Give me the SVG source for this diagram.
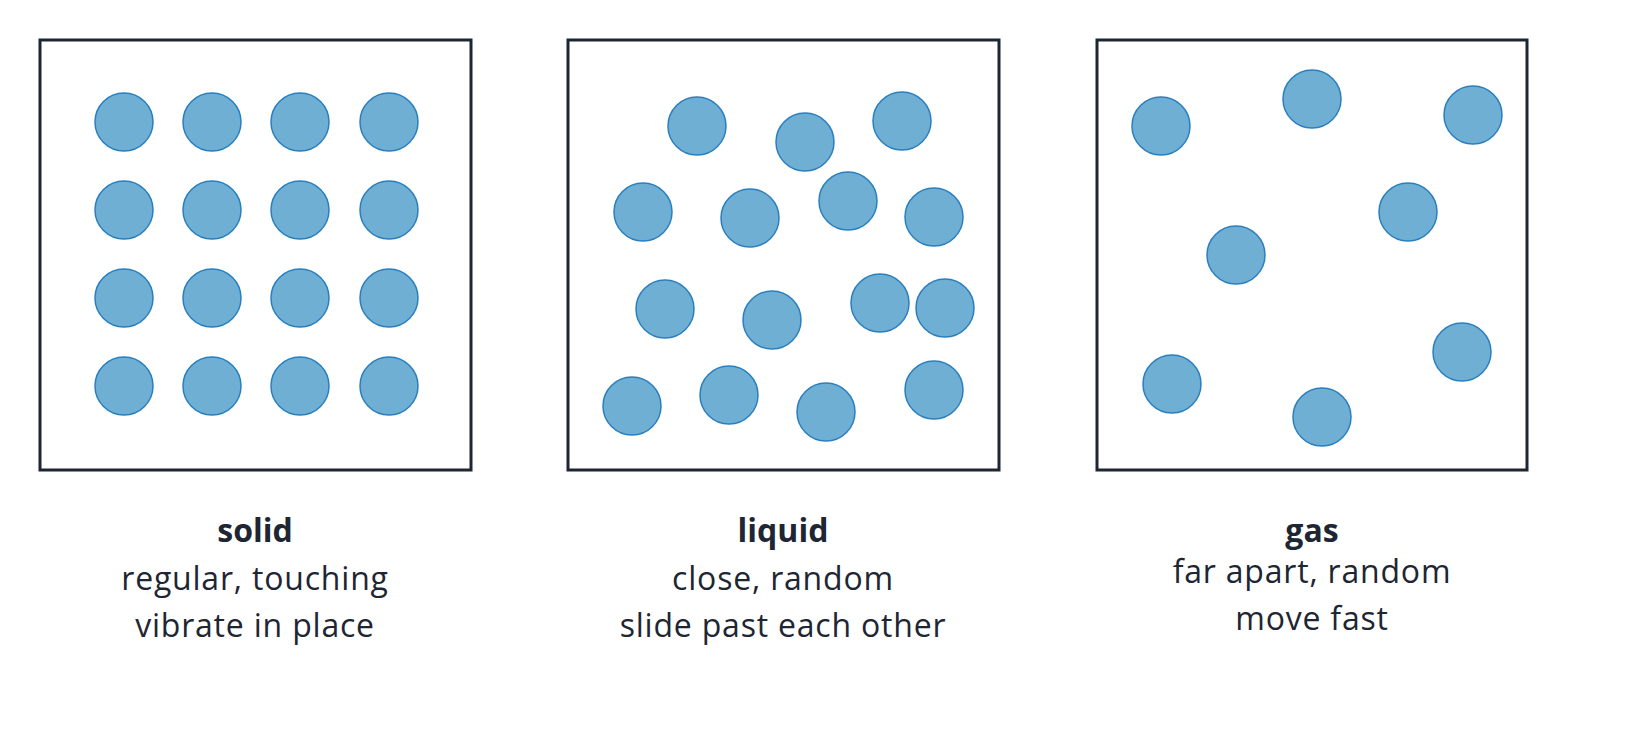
<svg xmlns="http://www.w3.org/2000/svg" width="1649" height="733" viewBox="0 0 1649 733">
<style>
.box{fill:#fff;stroke:#1e2633;stroke-width:3}
.p{fill:#6fafd4;stroke:#2a7fbf;stroke-width:1.5}
text{font-family:"Open Sans","Liberation Sans",sans-serif;fill:#1e2633;text-anchor:middle;font-size:32px;letter-spacing:0.8px}
.t{font-weight:bold;letter-spacing:0}
</style>
<rect width="1649" height="733" fill="#fff"/>
<g id="solid">
<rect class="box" x="40" y="40" width="431" height="430"/>
<g class="p">
<circle cx="124" cy="122" r="29"/><circle cx="212" cy="122" r="29"/><circle cx="300" cy="122" r="29"/><circle cx="389" cy="122" r="29"/>
<circle cx="124" cy="210" r="29"/><circle cx="212" cy="210" r="29"/><circle cx="300" cy="210" r="29"/><circle cx="389" cy="210" r="29"/>
<circle cx="124" cy="298" r="29"/><circle cx="212" cy="298" r="29"/><circle cx="300" cy="298" r="29"/><circle cx="389" cy="298" r="29"/>
<circle cx="124" cy="386" r="29"/><circle cx="212" cy="386" r="29"/><circle cx="300" cy="386" r="29"/><circle cx="389" cy="386" r="29"/>
</g>
<text class="t" x="255" y="542">solid</text>
<text x="255" y="590">regular, touching</text>
<text x="255" y="637">vibrate in place</text>
</g>
<g id="liquid">
<rect class="box" x="568" y="40" width="431" height="430"/>
<g class="p">
<circle cx="697" cy="126" r="29"/><circle cx="805" cy="142" r="29"/><circle cx="902" cy="121" r="29"/>
<circle cx="643" cy="212" r="29"/><circle cx="750" cy="218" r="29"/><circle cx="848" cy="201" r="29"/><circle cx="934" cy="217" r="29"/>
<circle cx="665" cy="309" r="29"/><circle cx="772" cy="320" r="29"/><circle cx="880" cy="303" r="29"/><circle cx="945" cy="308" r="29"/>
<circle cx="632" cy="406" r="29"/><circle cx="729" cy="395" r="29"/><circle cx="826" cy="412" r="29"/><circle cx="934" cy="390" r="29"/>
</g>
<text class="t" x="783" y="542">liquid</text>
<text x="783" y="590">close, random</text>
<text x="783" y="637">slide past each other</text>
</g>
<g id="gas">
<rect class="box" x="1097" y="40" width="430" height="430"/>
<g class="p">
<circle cx="1161" cy="126" r="29"/><circle cx="1312" cy="99" r="29"/><circle cx="1473" cy="115" r="29"/>
<circle cx="1408" cy="212" r="29"/><circle cx="1236" cy="255" r="29"/><circle cx="1172" cy="384" r="29"/>
<circle cx="1462" cy="352" r="29"/><circle cx="1322" cy="417" r="29"/>
</g>
<text class="t" x="1312" y="542">gas</text>
<text x="1312" y="583">far apart, random</text>
<text x="1312" y="630">move fast</text>
</g>
<g id="connectors"/>
</svg>
